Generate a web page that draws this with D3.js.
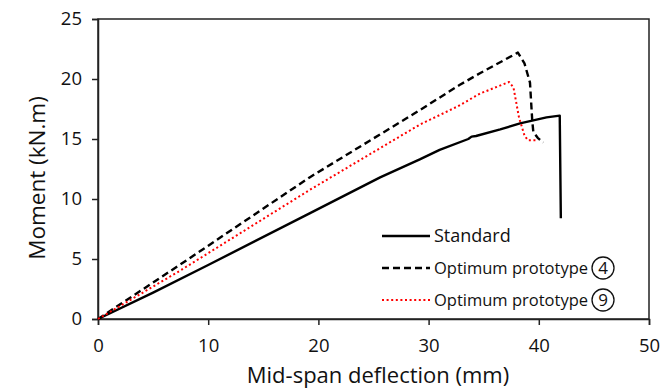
<!DOCTYPE html>
<html>
<head>
<meta charset="utf-8">
<script src="https://cdn.jsdelivr.net/npm/d3@7"></script>
<style>
  body { margin: 0; background: #fff; }
  text { font-family: "Open Sans", Calibri, sans-serif; fill: #111; }
</style>
</head>
<body>
<svg id="chart" width="662" height="391"></svg>
<script>
// data: deflection (mm) vs moment (kN.m)
const standardDefl = [0, 5, 10, 19.2, 25.6, 29.2, 31, 33.6, 33.9, 34.3, 36.5, 38.3, 40.7, 41.9, 42.0];
const standardMom  = [0, 2.2, 4.5, 8.8, 11.8, 13.3, 14.1, 15.0, 15.2, 15.25, 15.8, 16.3, 16.8, 16.95, 8.4];

const opt4Defl = [0, 7.4, 19.2, 29.2, 32.8, 34.7, 38.1, 38.7, 39.2, 39.4, 39.5, 39.9, 40.4];
const opt4Mom  = [0, 4.5, 11.8, 17.4, 19.5, 20.5, 22.2, 21.3, 19.7, 16.6, 15.6, 15.1, 14.7];

const opt9Defl = [0, 7.4, 19.2, 29.2, 32.6, 34.7, 37.3, 37.7, 38.2, 38.7, 39.0, 39.7];
const opt9Mom  = [0, 4.0, 10.75, 16.2, 17.7, 18.8, 19.75, 19.3, 16.8, 15.3, 14.9, 14.9];

const xTicks = [0, 10, 20, 30, 40, 50];
const yTicks = [0, 5, 10, 15, 20, 25];

const series = [
  { name: 'Standard', num: null, x: standardDefl, y: standardMom, color: '#000', width: 2.4, dash: null },
  { name: 'Optimum prototype', num: '4', x: opt4Defl, y: opt4Mom, color: '#000', width: 2.4, dash: '7,4' },
  { name: 'Optimum prototype', num: '9', x: opt9Defl, y: opt9Mom, color: '#ff0000', width: 2, dash: '2,2.6' },
];

const svg = d3.select('#chart');
const plot = { left: 98, right: 649, top: 19, bottom: 319 };

const x = d3.scaleLinear().domain([0, 50]).range([plot.left, plot.right]);
const y = d3.scaleLinear().domain([0, 25]).range([plot.bottom, plot.top]);

// frame
svg.append('rect')
  .attr('x', plot.left).attr('y', plot.top)
  .attr('width', plot.right - plot.left).attr('height', plot.bottom - plot.top)
  .attr('fill', 'none').attr('stroke', '#222').attr('stroke-width', 1.5);

const xAxis = svg.append('g')
  .attr('transform', `translate(0,${plot.bottom})`)
  .call(d3.axisBottom(x).tickValues(xTicks).tickSize(6).tickPadding(14));
const yAxis = svg.append('g')
  .attr('transform', `translate(${plot.left},0)`)
  .call(d3.axisLeft(y).tickValues(yTicks).tickSize(6).tickPadding(10));

[xAxis, yAxis].forEach((g) => {
  g.select('.domain').attr('stroke', '#222').attr('stroke-width', 1.5);
  g.selectAll('.tick line').attr('stroke', '#222').attr('stroke-width', 1.5);
  g.selectAll('.tick text').attr('font-size', 18.5).attr('fill', '#111')
    .style('font-family', '"Open Sans", sans-serif');
});

const line = d3.line().x((d) => x(d[0])).y((d) => y(d[1]));

series.forEach((s) => {
  svg.append('path')
    .datum(d3.zip(s.x, s.y))
    .attr('d', line)
    .attr('fill', 'none')
    .attr('stroke', s.color)
    .attr('stroke-width', s.width)
    .attr('stroke-linejoin', 'round')
    .attr('stroke-dasharray', s.dash);
});

// axis titles
svg.append('text')
  .attr('x', 378).attr('y', 383)
  .attr('text-anchor', 'middle')
  .attr('font-size', 22)
  .text('Mid-span deflection (mm)');

svg.append('text')
  .attr('transform', 'translate(45,178) rotate(-90)')
  .attr('text-anchor', 'middle')
  .attr('font-size', 22.5)
  .text('Moment (kN.m)');

// legend
const legend = svg.append('g');
series.forEach((s, i) => {
  const ly = 236 + i * 32;
  legend.append('line')
    .attr('x1', 382).attr('x2', 430)
    .attr('y1', ly).attr('y2', ly)
    .attr('stroke', s.color)
    .attr('stroke-width', s.width)
    .attr('stroke-dasharray', s.dash);
  const t = legend.append('text')
    .attr('x', 434).attr('y', ly + 6)
    .attr('font-size', s.num ? 16.5 : 18)
    .text(s.name);
  if (s.num) {
    const cx = 434 + t.node().getComputedTextLength() + 15;
    legend.append('circle')
      .attr('cx', cx).attr('cy', ly)
      .attr('r', 11)
      .attr('fill', 'none').attr('stroke', '#111').attr('stroke-width', 1.3);
    legend.append('text')
      .attr('x', cx).attr('y', ly + 6)
      .attr('text-anchor', 'middle')
      .attr('font-size', 17)
      .text(s.num);
  }
});
</script>
</body>
</html>
